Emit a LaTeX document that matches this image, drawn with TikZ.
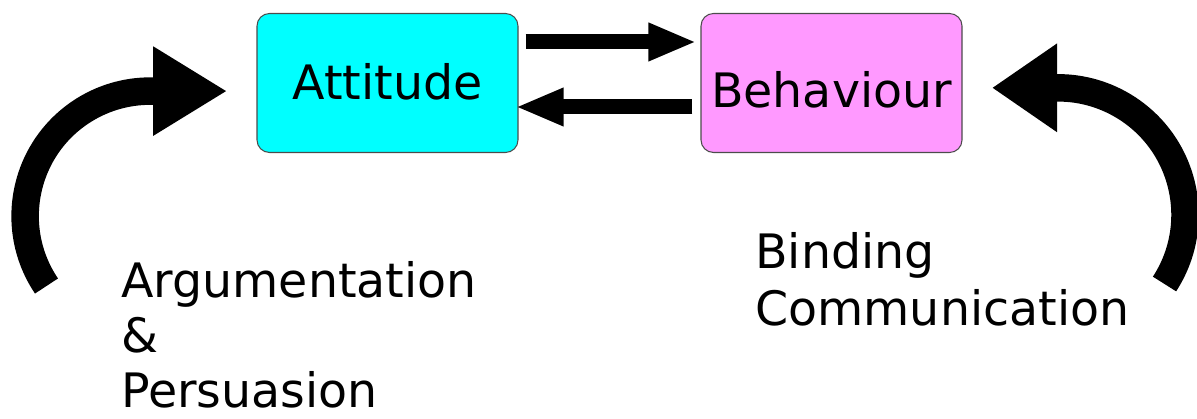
\documentclass[tikz,border=0pt]{standalone}
\usepackage{fontspec}
\setmainfont{DejaVu Sans}
\usetikzlibrary{arrows.meta,calc}
\definecolor{attcyan}{RGB}{0,255,255}
\definecolor{behpink}{RGB}{255,153,255}

\begin{document}
\begin{tikzpicture}[
    box/.style={draw=black!70, line width=0.6pt, rounded corners=0.25cm, minimum width=5.22cm, minimum height=2.78cm, inner sep=0pt, font=\fontsize{27}{32}\selectfont},
    flowarrow/.style={line width=0.3cm, -{Triangle[length=0.96cm, width=0.7cm]}},
    bendarrow/.style={line width=0.55cm, -{Triangle[length=#1, width=1.68cm]}},
    sidetext/.style={align=left, inner sep=0pt, anchor=base west, font=\fontsize{27}{#1}\selectfont}]

    \useasboundingbox (0,0) rectangle (23.94,8.38);

    % Attitude
    \node[box, fill=attcyan, text height=0.69cm, text depth=0.03cm] (att) at (7.75,6.72) {Attitude};

    % Behaviour
    \node[box, fill=behpink, text height=1.0cm, text depth=0cm] (beh) at (16.63,6.72) {Behaviour};

    % Arrows between the boxes
    \draw[flowarrow, shorten <=0.14cm, shorten >=0.08cm] ([yshift=0.82cm]att.east) -- ([yshift=0.82cm]beh.west);
    \draw[flowarrow, shorten <=0.16cm, shorten >=-0.06cm] ([yshift=-0.48cm]beh.west) -- ([yshift=-0.48cm]att.east);

    % Curved arrow on the left
    \coordinate (argtail) at (0.93,2.66);
    \draw[bendarrow=1.48cm] (argtail) arc[start angle=214, end angle=90, radius=2.5cm] -- ++(1.54,0);

    % Curved arrow on the right
    \coordinate (bindtail) at (23.29,2.70);
    \draw[bendarrow=1.3cm] (bindtail) arc[start angle=-33, end angle=90, radius=2.54cm] -- ++(-1.32,0);

    % Labels (anchored on the last line)
    \node[sidetext=31.3] (argtext) at (2.42,0.22) {Argumentation\\\&\\Persuasion};
    \node[sidetext=33] (bindtext) at (15.10,1.86) {Binding\\Communication};
\end{tikzpicture}
\end{document}
